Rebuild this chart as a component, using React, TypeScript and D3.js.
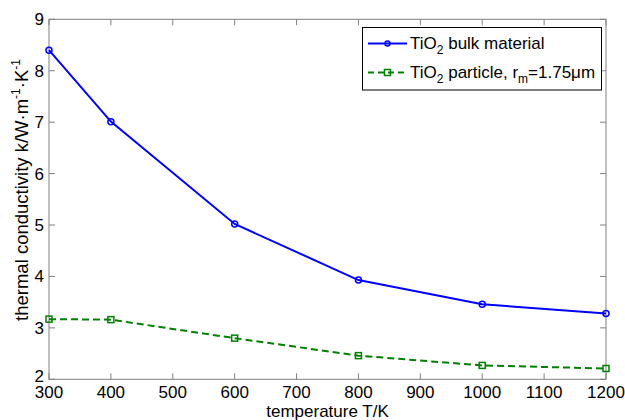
import React from "react";
import * as d3 from "d3";

const temperatures = [300, 400, 600, 800, 1000, 1200];
const bulkValues = [8.4, 7.01, 5.02, 3.93, 3.46, 3.28];
const particleValues = [3.17, 3.16, 2.8, 2.46, 2.27, 2.21];
const xTicks = [300, 400, 500, 600, 700, 800, 900, 1000, 1100, 1200];
const yTicks = [2, 3, 4, 5, 6, 7, 8, 9];

const W = 625;
const H = 420;
const M = { left: 49, right: 606, top: 19.3, bottom: 379.3 };
const FONT = "Liberation Sans, Arial, sans-serif";
const AXIS = "#808080";
const FS = 17;
const SUB = 12;

export default function App() {
  const x = d3.scaleLinear().domain([300, 1200]).range([M.left, M.right]);
  const y = d3.scaleLinear().domain([2, 9]).range([M.bottom, M.top]);
  const line = d3
    .line<[number, number]>()
    .x((d) => x(d[0]))
    .y((d) => y(d[1]));
  const bulk = temperatures.map((t, i) => [t, bulkValues[i]] as [number, number]);
  const part = temperatures.map((t, i) => [t, particleValues[i]] as [number, number]);
  const tl = 6;

  return (
    <svg
      width={W}
      height={H}
      style={{ position: "absolute", left: 0, top: 0, background: "#fff" }}
      fontFamily={FONT}
    >
      <rect x={0} y={0} width={W} height={H} fill="#fff" />
      {/* axes box */}
      <rect
        x={M.left}
        y={M.top}
        width={M.right - M.left}
        height={M.bottom - M.top}
        fill="none"
        stroke={AXIS}
        strokeWidth={1}
      />
      {xTicks.map((t) => (
        <g key={"x" + t}>
          <line x1={x(t)} x2={x(t)} y1={M.bottom} y2={M.bottom - tl} stroke={AXIS} />
          <line x1={x(t)} x2={x(t)} y1={M.top} y2={M.top + tl} stroke={AXIS} />
          <text x={x(t)} y={398} fontSize={FS} textAnchor="middle" fill="#000">
            {t}
          </text>
        </g>
      ))}
      {yTicks.map((t) => (
        <g key={"y" + t}>
          <line x1={M.left} x2={M.left + tl} y1={y(t)} y2={y(t)} stroke={AXIS} />
          <line x1={M.right} x2={M.right - tl} y1={y(t)} y2={y(t)} stroke={AXIS} />
          <text
            x={44}
            y={y(t) + 6 - (t === 2 ? 3 : 0)}
            fontSize={FS}
            textAnchor="end"
            fill="#000"
          >
            {t}
          </text>
        </g>
      ))}
      <text x={(M.left + M.right) / 2} y={416.5} fontSize={FS} textAnchor="middle" fill="#000">
        temperature T/K
      </text>
      <text
        transform={`translate(28,190) rotate(-90)`}
        fontSize={18.5}
        textAnchor="middle"
        fill="#000"
      >
        thermal conductivity k/W·m
        <tspan fontSize={SUB} dy={-8}>-1</tspan>
        <tspan dy={8}>·K</tspan>
        <tspan fontSize={SUB} dy={-8}>-1</tspan>
      </text>

      {/* series */}
      <path d={line(bulk) || ""} fill="none" stroke="#0000ff" strokeWidth={2} />
      {bulk.map((d, i) => (
        <circle key={"b" + i} cx={x(d[0])} cy={y(d[1])} r={3} fill="none" stroke="#0000ff" strokeWidth={1.5} />
      ))}
      <path
        d={line(part) || ""}
        fill="none"
        stroke="#008000"
        strokeWidth={2}
        strokeDasharray="7,4"
      />
      {part.map((d, i) => (
        <rect
          key={"p" + i}
          x={x(d[0]) - 3}
          y={y(d[1]) - 3}
          width={6}
          height={6}
          fill="none"
          stroke="#008000"
          strokeWidth={1.5}
        />
      ))}

      {/* legend */}
      <g>
        <rect x={362.5} y={27.5} width={239} height={62.5} fill="#fff" stroke="#000" strokeWidth={1} />
        <line x1={368} x2={407} y1={43.5} y2={43.5} stroke="#0000ff" strokeWidth={2} />
        <circle cx={387.5} cy={43.5} r={2.5} fill="none" stroke="#0000ff" strokeWidth={1.5} />
        <text x={410} y={49} fontSize={FS} fill="#000">
          TiO<tspan fontSize={SUB} dy={5}>2</tspan>
          <tspan dy={-5}> bulk material</tspan>
        </text>
        <line
          x1={368}
          x2={407}
          y1={72.5}
          y2={72.5}
          stroke="#008000"
          strokeWidth={2}
          strokeDasharray="6,4"
        />
        <rect x={384.5} y={69.5} width={6} height={6} fill="none" stroke="#008000" strokeWidth={1.5} />
        <text x={410} y={78} fontSize={FS} fill="#000">
          TiO<tspan fontSize={SUB} dy={5}>2</tspan>
          <tspan dy={-5}> particle, r</tspan>
          <tspan fontSize={SUB} dy={5}>m</tspan>
          <tspan dy={-5}>=1.75μm</tspan>
        </text>
      </g>
    </svg>
  );
}
